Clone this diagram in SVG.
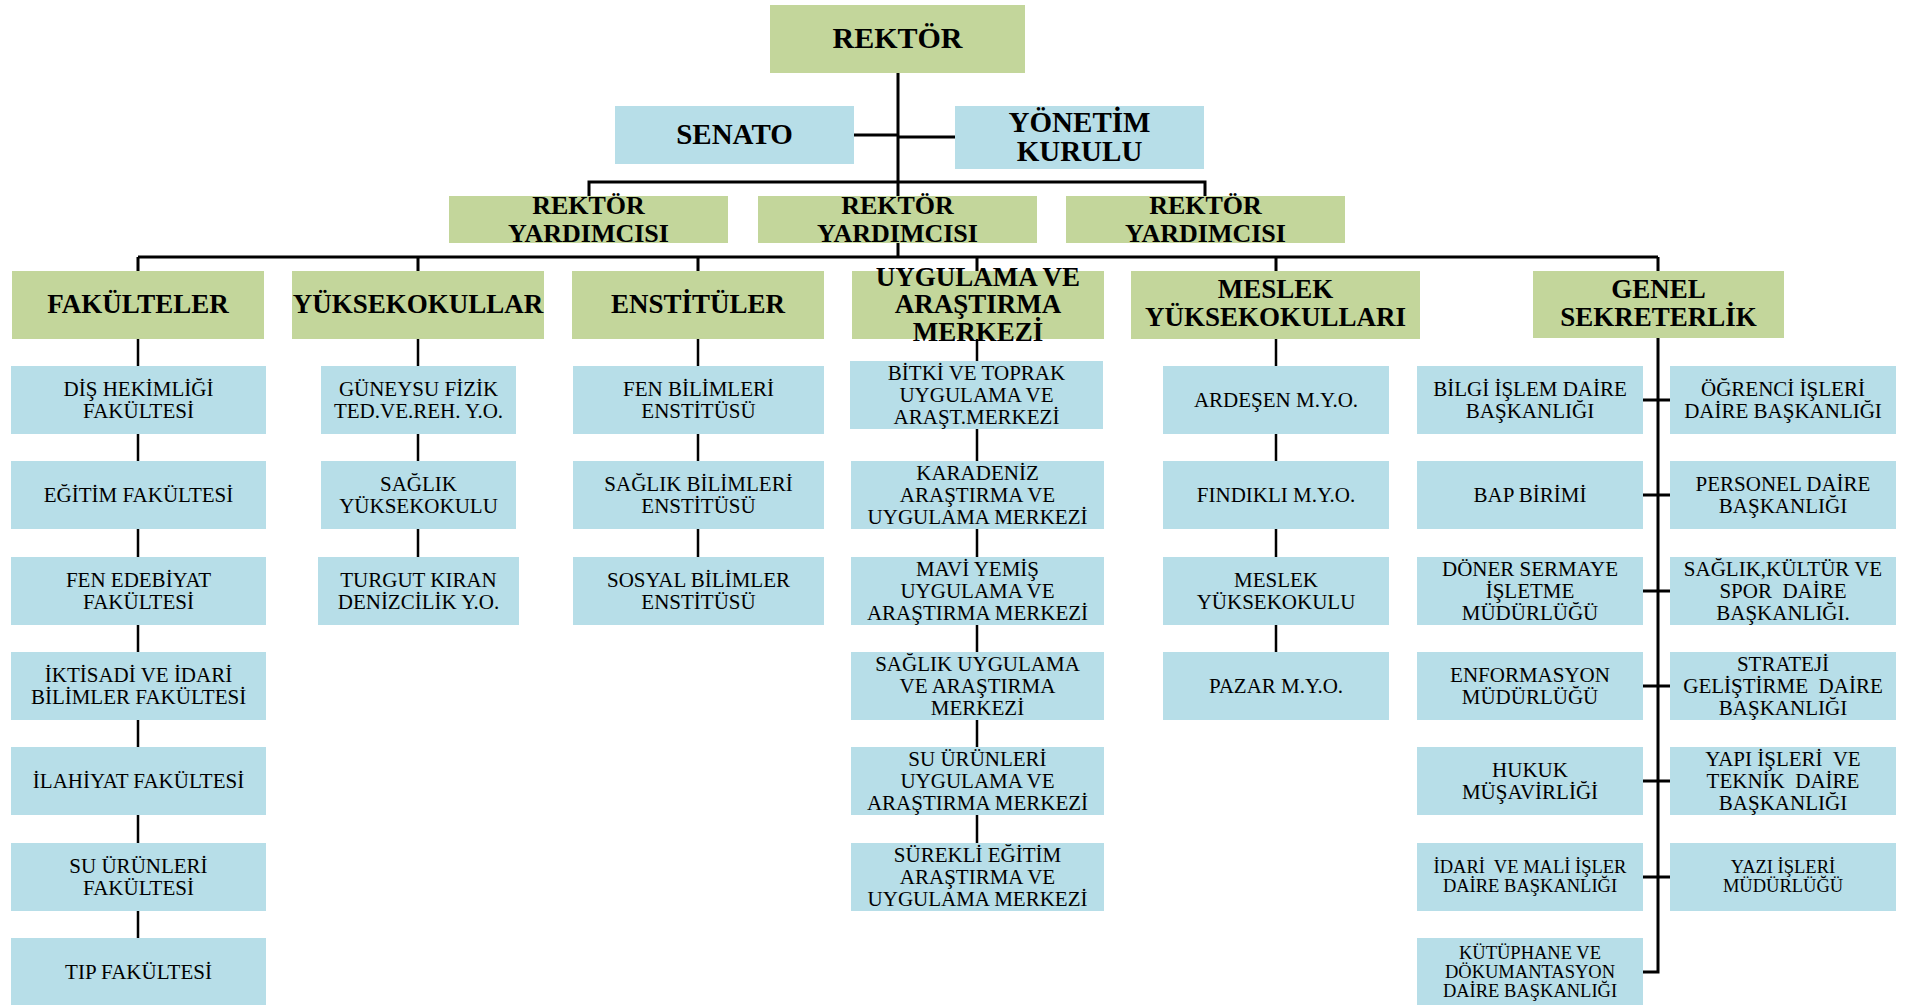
<svg xmlns="http://www.w3.org/2000/svg" width="1913" height="1005" viewBox="0 0 1913 1005">
<style>
.g{fill:#c3d69b}
.b{fill:#b7dee8}
text{font-family:"Liberation Serif","Times New Roman",serif;fill:#000;text-anchor:middle;dominant-baseline:central}
.h{font-weight:bold;font-size:27px}
.r{font-weight:bold;font-size:26px}
.hb{font-weight:bold;font-size:30px}
.t{font-size:21px}
.s{font-size:18.5px}
.ln{fill:none;stroke:#000;stroke-width:3}
.lc{fill:none;stroke:#000;stroke-width:2.5}
</style>
<rect width="1913" height="1005" fill="#fff"/>
<g id="connectors">
<path class="ln" d="M898,73V196M854,135H898M898,137H955M589,196V182H1205V196M898,243V257M138,257H1658M138,257V271M418,257V271M698,257V271M977,257V271M1276,257V271M1658,257V271"/>
<path class="lc" d="M138,339V366M138,434V461M138,529V557M138,625V652M138,720V747M138,815V843M138,911V938"/>
<path class="lc" d="M418,339V366M418,434V461M418,529V557"/>
<path class="lc" d="M698,339V366M698,434V461M698,529V557"/>
<path class="lc" d="M977,339V361M977,429V461M977,529V557M977,625V652M977,720V747M977,815V843"/>
<path class="lc" d="M1276,339V366M1276,434V461M1276,529V557M1276,625V652"/>
<path class="ln" d="M1658,338V972H1643M1643,400H1670M1643,495H1670M1643,591H1670M1643,686H1670M1643,781H1670M1643,877H1670"/>
</g>
<g id="rektor"><rect class="g" x="770" y="5" width="255" height="68"/><text class="hb" x="897.5" y="37">REKTÖR</text></g>
<g id="senato"><rect class="b" x="615" y="106" width="239" height="58"/><text class="hb" x="734.5" y="134" style="font-size:29px">SENATO</text></g>
<g id="yonetim"><rect class="b" x="955" y="106" width="249" height="63"/><text class="hb" x="1079.5" style="font-size:29px"><tspan x="1079.5" y="122">YÖNETİM</tspan><tspan x="1079.5" y="151">KURULU</tspan></text></g>
<g id="ry1"><rect class="g" x="449" y="196" width="279" height="47"/><text class="r"><tspan x="588.5" y="205">REKTÖR</tspan><tspan x="588.5" y="232.5">YARDIMCISI</tspan></text></g>
<g id="ry2"><rect class="g" x="758" y="196" width="279" height="47"/><text class="r"><tspan x="897.5" y="205">REKTÖR</tspan><tspan x="897.5" y="232.5">YARDIMCISI</tspan></text></g>
<g id="ry3"><rect class="g" x="1066" y="196" width="279" height="47"/><text class="r"><tspan x="1205.5" y="205">REKTÖR</tspan><tspan x="1205.5" y="232.5">YARDIMCISI</tspan></text></g>
<g id="fakulteler"><rect class="g" x="12" y="271" width="252" height="68"/><text class="h" x="138" y="304">FAKÜLTELER</text></g>
<g id="yuksekokullar"><rect class="g" x="292" y="271" width="252" height="68"/><text class="h" x="418" y="304">YÜKSEKOKULLAR</text></g>
<g id="enstituler"><rect class="g" x="572" y="271" width="252" height="68"/><text class="h" x="698" y="304">ENSTİTÜLER</text></g>
<g id="uygulama"><rect class="g" x="852" y="271" width="252" height="68"/><text class="h"><tspan x="978" y="277">UYGULAMA VE</tspan><tspan x="978" y="304">ARAŞTIRMA</tspan><tspan x="978" y="332">MERKEZİ</tspan></text></g>
<g id="myo"><rect class="g" x="1131" y="271" width="289" height="68"/><text class="h"><tspan x="1275.5" y="289">MESLEK</tspan><tspan x="1275.5" y="317">YÜKSEKOKULLARI</tspan></text></g>
<g id="genel"><rect class="g" x="1533" y="271" width="251" height="67"/><text class="h"><tspan x="1658.5" y="289">GENEL</tspan><tspan x="1658.5" y="317">SEKRETERLİK</tspan></text></g>
<g id="f1"><rect class="b" x="11" y="366" width="255" height="68"/><text class="t"><tspan x="138.5" y="388.5">DİŞ HEKİMLİĞİ</tspan><tspan x="138.5" y="411">FAKÜLTESİ</tspan></text></g>
<g id="f2"><rect class="b" x="11" y="461" width="255" height="68"/><text class="t" x="138.5" y="495">EĞİTİM FAKÜLTESİ</text></g>
<g id="f3"><rect class="b" x="11" y="557" width="255" height="68"/><text class="t"><tspan x="138.5" y="579.5">FEN EDEBİYAT</tspan><tspan x="138.5" y="602">FAKÜLTESİ</tspan></text></g>
<g id="f4"><rect class="b" x="11" y="652" width="255" height="68"/><text class="t"><tspan x="138.5" y="674.5">İKTİSADİ VE İDARİ</tspan><tspan x="138.5" y="697">BİLİMLER FAKÜLTESİ</tspan></text></g>
<g id="f5"><rect class="b" x="11" y="747" width="255" height="68"/><text class="t" x="138.5" y="781">İLAHİYAT FAKÜLTESİ</text></g>
<g id="f6"><rect class="b" x="11" y="843" width="255" height="68"/><text class="t"><tspan x="138.5" y="865.5">SU ÜRÜNLERİ</tspan><tspan x="138.5" y="888">FAKÜLTESİ</tspan></text></g>
<g id="f7"><rect class="b" x="11" y="938" width="255" height="68"/><text class="t" x="138.5" y="972">TIP FAKÜLTESİ</text></g>
<g id="y1"><rect class="b" x="321" y="366" width="195" height="68"/><text class="t"><tspan x="418.5" y="388.5">GÜNEYSU FİZİK</tspan><tspan x="418.5" y="411">TED.VE.REH. Y.O.</tspan></text></g>
<g id="y2"><rect class="b" x="321" y="461" width="195" height="68"/><text class="t"><tspan x="418.5" y="483.5">SAĞLIK</tspan><tspan x="418.5" y="506">YÜKSEKOKULU</tspan></text></g>
<g id="y3"><rect class="b" x="318" y="557" width="201" height="68"/><text class="t"><tspan x="418.5" y="579.5">TURGUT KIRAN</tspan><tspan x="418.5" y="602">DENİZCİLİK Y.O.</tspan></text></g>
<g id="e1"><rect class="b" x="573" y="366" width="251" height="68"/><text class="t"><tspan x="698.5" y="388.5">FEN BİLİMLERİ</tspan><tspan x="698.5" y="411">ENSTİTÜSÜ</tspan></text></g>
<g id="e2"><rect class="b" x="573" y="461" width="251" height="68"/><text class="t"><tspan x="698.5" y="483.5">SAĞLIK BİLİMLERİ</tspan><tspan x="698.5" y="506">ENSTİTÜSÜ</tspan></text></g>
<g id="e3"><rect class="b" x="573" y="557" width="251" height="68"/><text class="t"><tspan x="698.5" y="579.5">SOSYAL BİLİMLER</tspan><tspan x="698.5" y="602">ENSTİTÜSÜ</tspan></text></g>
<g id="u1"><rect class="b" x="850" y="361" width="253" height="68"/><text class="t"><tspan x="976.5" y="373">BİTKİ VE TOPRAK</tspan><tspan x="976.5" y="395">UYGULAMA VE</tspan><tspan x="976.5" y="417">ARAŞT.MERKEZİ</tspan></text></g>
<g id="u2"><rect class="b" x="851" y="461" width="253" height="68"/><text class="t"><tspan x="977.5" y="473">KARADENİZ</tspan><tspan x="977.5" y="495">ARAŞTIRMA VE</tspan><tspan x="977.5" y="517">UYGULAMA MERKEZİ</tspan></text></g>
<g id="u3"><rect class="b" x="851" y="557" width="253" height="68"/><text class="t"><tspan x="977.5" y="569">MAVİ YEMİŞ</tspan><tspan x="977.5" y="591">UYGULAMA VE</tspan><tspan x="977.5" y="613">ARAŞTIRMA MERKEZİ</tspan></text></g>
<g id="u4"><rect class="b" x="851" y="652" width="253" height="68"/><text class="t"><tspan x="977.5" y="664">SAĞLIK UYGULAMA</tspan><tspan x="977.5" y="686">VE ARAŞTIRMA</tspan><tspan x="977.5" y="708">MERKEZİ</tspan></text></g>
<g id="u5"><rect class="b" x="851" y="747" width="253" height="68"/><text class="t"><tspan x="977.5" y="759">SU ÜRÜNLERİ</tspan><tspan x="977.5" y="781">UYGULAMA VE</tspan><tspan x="977.5" y="803">ARAŞTIRMA MERKEZİ</tspan></text></g>
<g id="u6"><rect class="b" x="851" y="843" width="253" height="68"/><text class="t"><tspan x="977.5" y="855">SÜREKLİ EĞİTİM</tspan><tspan x="977.5" y="877">ARAŞTIRMA VE</tspan><tspan x="977.5" y="899">UYGULAMA MERKEZİ</tspan></text></g>
<g id="m1"><rect class="b" x="1163" y="366" width="226" height="68"/><text class="t" x="1276" y="400">ARDEŞEN M.Y.O.</text></g>
<g id="m2"><rect class="b" x="1163" y="461" width="226" height="68"/><text class="t" x="1276" y="495">FINDIKLI M.Y.O.</text></g>
<g id="m3"><rect class="b" x="1163" y="557" width="226" height="68"/><text class="t"><tspan x="1276" y="579.5">MESLEK</tspan><tspan x="1276" y="602">YÜKSEKOKULU</tspan></text></g>
<g id="m4"><rect class="b" x="1163" y="652" width="226" height="68"/><text class="t" x="1276" y="686">PAZAR M.Y.O.</text></g>
<g id="gl1"><rect class="b" x="1417" y="366" width="226" height="68"/><text class="t"><tspan x="1530" y="388.5">BİLGİ İŞLEM DAİRE</tspan><tspan x="1530" y="411">BAŞKANLIĞI</tspan></text></g>
<g id="gl2"><rect class="b" x="1417" y="461" width="226" height="68"/><text class="t" x="1530" y="495">BAP BİRİMİ</text></g>
<g id="gl3"><rect class="b" x="1417" y="557" width="226" height="68"/><text class="t"><tspan x="1530" y="569">DÖNER SERMAYE</tspan><tspan x="1530" y="591">İŞLETME</tspan><tspan x="1530" y="613">MÜDÜRLÜĞÜ</tspan></text></g>
<g id="gl4"><rect class="b" x="1417" y="652" width="226" height="68"/><text class="t"><tspan x="1530" y="674.5">ENFORMASYON</tspan><tspan x="1530" y="697">MÜDÜRLÜĞÜ</tspan></text></g>
<g id="gl5"><rect class="b" x="1417" y="747" width="226" height="68"/><text class="t"><tspan x="1530" y="769.5">HUKUK</tspan><tspan x="1530" y="792">MÜŞAVİRLİĞİ</tspan></text></g>
<g id="gl6"><rect class="b" x="1417" y="843" width="226" height="68"/><text class="s" xml:space="preserve"><tspan x="1530" y="867">İDARİ  VE MALİ İŞLER</tspan><tspan x="1530" y="886">DAİRE BAŞKANLIĞI</tspan></text></g>
<g id="gl7"><rect class="b" x="1417" y="938" width="226" height="68"/><text class="s"><tspan x="1530" y="953">KÜTÜPHANE VE</tspan><tspan x="1530" y="972">DÖKUMANTASYON</tspan><tspan x="1530" y="991">DAİRE BAŞKANLIĞI</tspan></text></g>
<g id="gr1"><rect class="b" x="1670" y="366" width="226" height="68"/><text class="t"><tspan x="1783" y="388.5">ÖĞRENCİ İŞLERİ</tspan><tspan x="1783" y="411">DAİRE BAŞKANLIĞI</tspan></text></g>
<g id="gr2"><rect class="b" x="1670" y="461" width="226" height="68"/><text class="t"><tspan x="1783" y="483.5">PERSONEL DAİRE</tspan><tspan x="1783" y="506">BAŞKANLIĞI</tspan></text></g>
<g id="gr3"><rect class="b" x="1670" y="557" width="226" height="68"/><text class="t" xml:space="preserve"><tspan x="1783" y="569">SAĞLIK,KÜLTÜR VE</tspan><tspan x="1783" y="591">SPOR  DAİRE</tspan><tspan x="1783" y="613">BAŞKANLIĞI.</tspan></text></g>
<g id="gr4"><rect class="b" x="1670" y="652" width="226" height="68"/><text class="t" xml:space="preserve"><tspan x="1783" y="664">STRATEJİ</tspan><tspan x="1783" y="686">GELİŞTİRME  DAİRE</tspan><tspan x="1783" y="708">BAŞKANLIĞI</tspan></text></g>
<g id="gr5"><rect class="b" x="1670" y="747" width="226" height="68"/><text class="t" xml:space="preserve"><tspan x="1783" y="759">YAPI İŞLERİ  VE</tspan><tspan x="1783" y="781">TEKNİK  DAİRE</tspan><tspan x="1783" y="803">BAŞKANLIĞI</tspan></text></g>
<g id="gr6"><rect class="b" x="1670" y="843" width="226" height="68"/><text class="s"><tspan x="1783" y="867">YAZI İŞLERİ</tspan><tspan x="1783" y="886">MÜDÜRLÜĞÜ</tspan></text></g>
</svg>
